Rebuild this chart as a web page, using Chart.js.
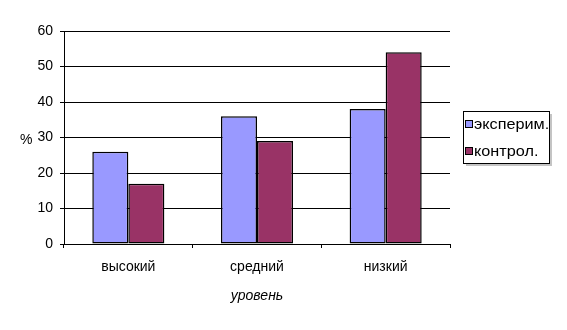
<!DOCTYPE html>
<html>
<head>
<meta charset="utf-8">
<script src="https://cdn.jsdelivr.net/npm/chart.js@4.4.0/dist/chart.umd.min.js"></script>
<style>
  html, body { margin: 0; padding: 0; background: #fff; }
  #wrap { width: 567px; height: 330px; }
</style>
</head>
<body>
<div id="wrap"><canvas id="myChart" width="567" height="330"></canvas></div>
<script>
// data
const categories = ["высокий", "средний", "низкий"];
const seriesNames = ["эксперим.", "контрол."];
const experimValues = [26, 36, 38];
const controlValues = [17, 29, 54];
const yTicks = [0, 10, 20, 30, 40, 50, 60];

const fillColors = ["#9999ff", "#993366"];
const fontFamily = "'Liberation Sans', Arial, sans-serif";

// "%" label and the boxed legend on the right, Excel style
const extrasPlugin = {
  id: "extras",
  afterDraw(chart) {
    const ctx = chart.ctx;
    ctx.save();
    ctx.font = "14px " + fontFamily;
    ctx.fillStyle = "#000";
    ctx.textBaseline = "middle";
    ctx.textAlign = "left";
    ctx.fillText("%", 20, 140);

    // legend box
    const bx = 463, by = 111, bw = 86, bh = 52;
    ctx.fillStyle = "#c4c4c4";
    ctx.fillRect(bx + 3, by + 3, bw, bh);
    ctx.fillStyle = "#fff";
    ctx.fillRect(bx, by, bw, bh);
    ctx.strokeStyle = "#000";
    ctx.lineWidth = 1;
    ctx.strokeRect(bx + 0.5, by + 0.5, bw, bh);

    chart.data.datasets.forEach((ds, i) => {
      const cy = 124 + i * 27;
      ctx.fillStyle = ds.backgroundColor;
      ctx.fillRect(465.5, cy - 3.5, 7, 7);
      ctx.strokeStyle = "#000";
      ctx.strokeRect(465.5, cy - 3.5, 7, 7);
      ctx.fillStyle = "#000";
      ctx.font = "14px " + fontFamily;
      // the legend text in the picture is a bit wide, stretch it slightly
      ctx.save();
      ctx.beginPath();
      ctx.rect(bx, by, bw, bh);
      ctx.clip();
      ctx.translate(474, cy + 1);
      ctx.scale(1.16, 1);
      ctx.fillText(ds.label, 0, 0);
      ctx.restore();
    });
    ctx.restore();
  }
};

const ctx = document.getElementById("myChart").getContext("2d");
new Chart(ctx, {
  type: "bar",
  data: {
    labels: categories,
    datasets: [
      {
        label: seriesNames[0],
        data: experimValues,
        backgroundColor: fillColors[0],
        borderColor: "#000",
        borderWidth: 1.5,
        borderSkipped: false,
      },
      {
        label: seriesNames[1],
        data: controlValues,
        backgroundColor: fillColors[1],
        borderColor: "#000",
        borderWidth: 1.5,
        borderSkipped: false,
      },
    ],
  },
  options: {
    responsive: false,
    animation: false,
    layout: { padding: { left: 0, right: 117, top: 31, bottom: 0 } },
    categoryPercentage: 0.56,
    barPercentage: 1.0,
    plugins: {
      legend: { display: false },
      tooltip: { enabled: false },
    },
    scales: {
      x: {
        afterFit: (scale) => { scale.height = 86; },
        grid: {
          offset: true,
          drawOnChartArea: false,
          color: "#000",
          tickLength: 4,
        },
        border: { color: "#000", width: 1 },
        ticks: {
          color: "#000",
          padding: 10.5,
          font: { family: fontFamily, size: 14 },
        },
        title: {
          display: true,
          text: "уровень",
          color: "#000",
          font: { family: fontFamily, size: 14, style: "italic" },
          padding: { top: 0, bottom: 25.6 },
        },
      },
      y: {
        min: 0,
        max: 60,
        afterFit: (scale) => { scale.width = 64; },
        afterBuildTicks: (scale) => { scale.ticks = yTicks.map((v) => ({ value: v })); },
        grid: { color: "#000", tickLength: 4 },
        border: { color: "#000", width: 1 },
        ticks: {
          color: "#000",
          padding: 7,
          font: { family: fontFamily, size: 14 },
        },
      },
    },
  },
  plugins: [extrasPlugin],
});
</script>
</body>
</html>
